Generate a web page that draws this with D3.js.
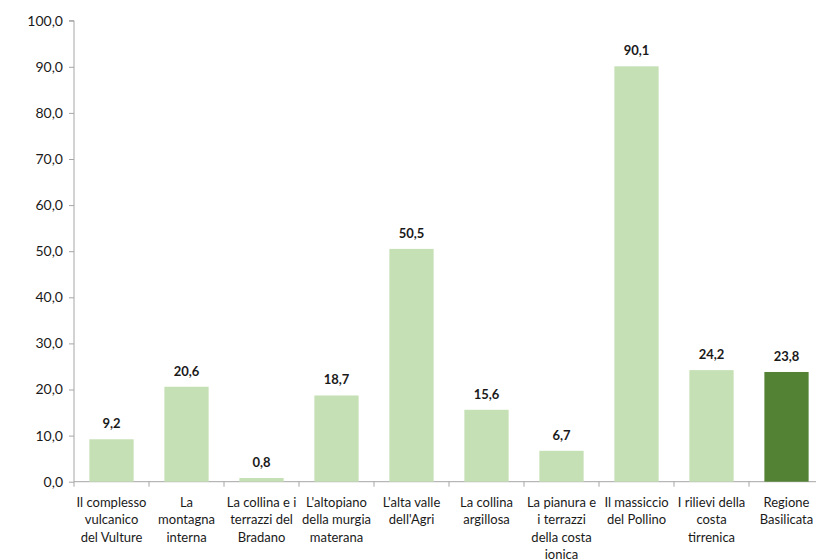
<!DOCTYPE html>
<html>
<head>
<meta charset="utf-8">
<script src="https://cdn.jsdelivr.net/npm/d3@7"></script>
<style>
  body { margin: 0; background: #fff; overflow: hidden; }
  text { font-family: Lato, "Open Sans", sans-serif; fill: #1a1a1a; }
</style>
</head>
<body>
<svg width="816" height="559"></svg>
<script>
const categories = [
    "Il complesso\nvulcanico\ndel Vulture",
    "La\nmontagna\ninterna",
    "La collina e i\nterrazzi del\nBradano",
    "L'altopiano\ndella murgia\nmaterana",
    "L'alta valle\ndell'Agri",
    "La collina\nargillosa",
    "La pianura e\ni terrazzi\ndella costa\nionica",
    "Il massiccio\ndel Pollino",
    "I rilievi della\ncosta\ntirrenica",
    "Regione\nBasilicata"
];
const values = [9.2, 20.6, 0.8, 18.7, 50.5, 15.6, 6.7, 90.1, 24.2, 23.8];
const yTicks = [0, 10, 20, 30, 40, 50, 60, 70, 80, 90, 100];

const fmt = v => d3.format(".1f")(v).replace(".", ",");

const svg = d3.select('svg');

const x = d3.scaleBand()
    .domain(categories)
    .range([74, 824])
    .paddingInner(0.41)
    .paddingOuter(0.205);

const y = d3.scaleLinear()
    .domain([0, 100])
    .range([481.7, 20.7]);

// y axis
const yAxis = svg.append('g')
    .attr('transform', 'translate(74,0)')
    .call(d3.axisLeft(y).tickValues(yTicks).tickFormat(fmt).tickSize(5).tickPadding(6));
yAxis.select('.domain').attr('stroke', '#a6a6a6').attr('d', 'M-5,' + y(100) + 'H0V' + y(0));
yAxis.selectAll('.tick line').attr('stroke', '#a6a6a6');
yAxis.selectAll('.tick text').style('font-size', '14px').attr('fill', '#1a1a1a');

// x axis
const xAxis = svg.append('g')
    .attr('transform', 'translate(0,' + y(0) + ')');
xAxis.append('line')
    .attr('x1', 74).attr('x2', 824)
    .attr('stroke', '#a6a6a6');
xAxis.selectAll('.xtick')
    .data(d3.range(categories.length + 1))
    .enter()
    .append('line')
    .attr('x1', i => 74 + i * x.step())
    .attr('x2', i => 74 + i * x.step())
    .attr('y1', 0).attr('y2', 5)
    .attr('stroke', '#a6a6a6');

// bars
svg.selectAll('.bar')
    .data(values)
    .enter()
    .append('rect')
    .attr('x', (d, i) => x(categories[i]))
    .attr('width', x.bandwidth())
    .attr('y', d => y(d))
    .attr('height', d => y(0) - y(d))
    .attr('fill', (d, i) => i === categories.length - 1 ? '#548235' : '#c5e0b4');

// value labels
svg.selectAll('.val')
    .data(values)
    .enter()
    .append('text')
    .attr('x', (d, i) => x(categories[i]) + x.bandwidth() / 2)
    .attr('y', d => y(d) - 11)
    .attr('text-anchor', 'middle')
    .style('font-size', '13px')
    .style('font-weight', 'bold')
    .text(d => fmt(d));

// category labels
const catLabels = svg.selectAll('.cat')
    .data(categories)
    .enter()
    .append('text')
    .attr('text-anchor', 'middle')
    .attr('transform', d => 'translate(' + (x(d) + x.bandwidth() / 2) + ',506.5)')
    .style('font-size', '13px');
catLabels.selectAll('tspan')
    .data(d => d.split('\n'))
    .enter()
    .append('tspan')
    .attr('x', 0)
    .attr('y', (d, i) => i * 17.5)
    .text(d => d);
</script>
</body>
</html>
